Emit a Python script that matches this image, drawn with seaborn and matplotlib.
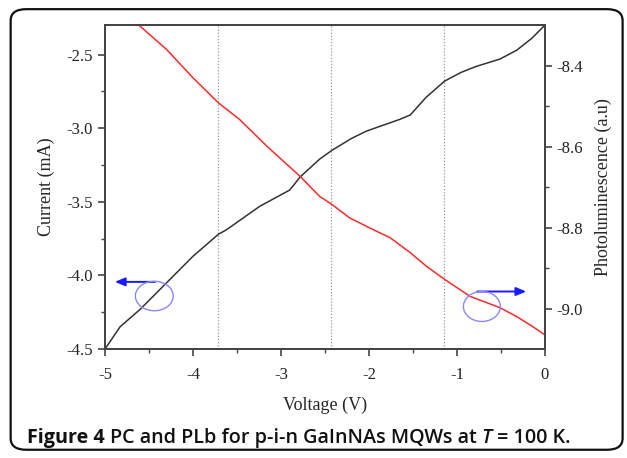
import numpy as np
import pandas as pd
import matplotlib
matplotlib.use("Agg")
import matplotlib.pyplot as plt
import seaborn as sns
from matplotlib.patches import Ellipse, FancyBboxPatch

# ---- data ----
pc_voltage = [-5.0, -4.83, -4.60, -4.30, -4.00, -3.71, -3.62, -3.24, -2.90, -2.78,
              -2.56, -2.42, -2.20, -2.03, -1.65, -1.53, -1.35, -1.14, -0.95, -0.78,
              -0.51, -0.32, -0.15, 0.0]
pc_current = [-4.50, -4.35, -4.23, -4.05, -3.87, -3.72, -3.69, -3.53, -3.42, -3.33,
              -3.21, -3.15, -3.07, -3.02, -2.94, -2.91, -2.79, -2.68, -2.62, -2.58,
              -2.53, -2.47, -2.39, -2.30]

pl_voltage = [-4.61, -4.30, -4.00, -3.71, -3.47, -3.16, -2.78, -2.56, -2.42, -2.22,
              -1.99, -1.76, -1.53, -1.35, -1.14, -0.85, -0.51, -0.32, -0.15, 0.0]
pl_intensity = [-8.301, -8.360, -8.430, -8.492, -8.533, -8.599, -8.674, -8.723, -8.743, -8.776,
                -8.801, -8.825, -8.862, -8.895, -8.928, -8.970, -8.998, -9.020, -9.043, -9.065]

marker_voltages = [-3.72, -2.43, -1.15]

pc = pd.DataFrame({"Voltage": pc_voltage, "Current": pc_current})
pl = pd.DataFrame({"Voltage": pl_voltage, "PL": pl_intensity})

sns.set_style("ticks")
plt.rcParams["font.family"] = ["Liberation Serif", "DejaVu Serif"]
plt.rcParams["axes.linewidth"] = 1.3
plt.rcParams["axes.edgecolor"] = "#444444"
plt.rcParams["xtick.color"] = "#444444"
plt.rcParams["ytick.color"] = "#444444"
plt.rcParams["xtick.labelcolor"] = "#222222"
plt.rcParams["ytick.labelcolor"] = "#222222"

fig = plt.figure(figsize=(6.27, 4.58), dpi=100)
ax = fig.add_axes([0.1675, 0.238, 0.7015, 0.707])
ax2 = ax.twinx()

for v in marker_voltages:
    ax.axvline(v, color="#999999", ls=(0, (1, 1.5)), lw=0.9, zorder=1)

sns.lineplot(data=pc, x="Voltage", y="Current", ax=ax, color="#333333", lw=1.1)
sns.lineplot(data=pl, x="Voltage", y="PL", ax=ax2, color="#ff2a2a", lw=1.1)

ax.set_xlim(-5, 0)
ax.set_ylim(-4.5, -2.3)
ax2.set_ylim(-9.1, -8.3)

ax.set_xticks([-5, -4, -3, -2, -1, 0])
ax.set_xticklabels(["-5", "-4", "-3", "-2", "-1", "0"])
ax.set_xticks(np.arange(-4.5, 0, 1.0), minor=True)
ax.set_yticks([-4.5, -4.0, -3.5, -3.0, -2.5])
ax.set_yticklabels(["-4.5", "-4.0", "-3.5", "-3.0", "-2.5"])
ax.set_yticks([-4.25, -3.75, -3.25, -2.75], minor=True)
ax2.set_yticks([-9.0, -8.8, -8.6, -8.4])
ax2.set_yticklabels(["-9.0", "-8.8", "-8.6", "-8.4"])
ax2.set_yticks([-8.9, -8.7, -8.5], minor=True)

for a in (ax, ax2):
    a.tick_params(which="major", direction="out", length=5, width=1.2, labelsize=12)
    a.tick_params(which="minor", direction="out", length=3, width=1.0)
ax.tick_params(axis="x", pad=8)

ax.set_xlabel("Voltage (V)", fontsize=13, labelpad=10)
ax.set_ylabel("Current (mA)", fontsize=13, labelpad=8)
ax2.set_ylabel("Photoluminescence (a.u)", fontsize=13, labelpad=8)

# annotation circles and arrows
ax.add_patch(Ellipse((-4.44, -4.14), 0.43, 0.20, fill=False, ec="#8888ff", lw=1.0, zorder=5))
ax.annotate("", xy=(-4.92, -4.044), xytext=(-4.40, -4.044),
            arrowprops=dict(arrowstyle="-|>,head_length=0.6,head_width=0.25", color="#1a1aff", lw=1.4))
ax2.add_patch(Ellipse((-0.716, -8.995), 0.42, 0.074, fill=False, ec="#8888ff", lw=1.0, zorder=5))
ax2.annotate("", xy=(-0.18, -8.958), xytext=(-0.80, -8.958),
             arrowprops=dict(arrowstyle="-|>,head_length=0.6,head_width=0.25", color="#1a1aff", lw=1.4))

# rounded frame around the figure
fig.patches.append(FancyBboxPatch((0.017, 0.018), 0.976, 0.962, boxstyle="round,pad=0,rounding_size=0.025",
                                  transform=fig.transFigure, fill=False, ec="#111111", lw=1.6))

# caption built from pieces
renderer = fig.canvas.get_renderer()
x0, y0 = 0.043, 0.033
pieces = [
    ("Figure 4 ", dict(fontweight="bold", style="normal")),
    ("PC and PLb for p-i-n GaInNAs MQWs at ", dict(fontweight="semibold", style="normal")),
    ("T", dict(fontweight="semibold", style="italic")),
    (" = 100 K.", dict(fontweight="semibold", style="normal")),
]
for s, kw in pieces:
    t = fig.text(x0, y0, s, fontsize=14.2, family=["Open Sans", "DejaVu Sans"], color="#111111",
                 va="baseline", ha="left", **kw)
    bb = t.get_window_extent(renderer=renderer)
    x0 += bb.width / fig.bbox.width

fig.savefig("out.png", dpi=100)
